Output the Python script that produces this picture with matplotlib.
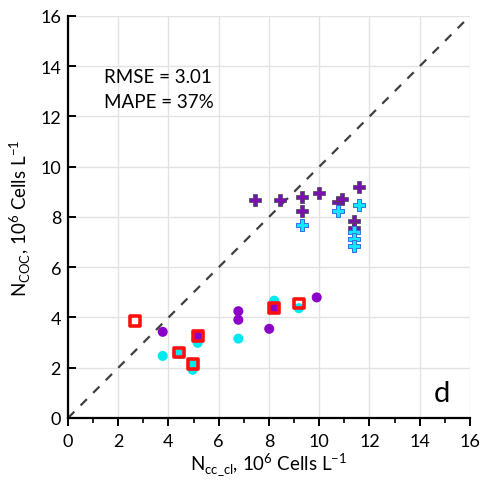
import matplotlib
matplotlib.use("Agg")
import matplotlib.pyplot as plt
from matplotlib.ticker import MultipleLocator

plt.rcParams['font.family'] = ['Lato', 'DejaVu Sans']
plt.rcParams['mathtext.fontset'] = 'custom'
plt.rcParams['mathtext.rm'] = 'Lato'

# Data
purple_plus_x = [7.44, 8.44, 9.31, 9.31, 9.98, 10.73, 10.89, 11.57, 11.38, 11.38]
purple_plus_y = [8.69, 8.69, 8.78, 8.25, 8.95, 8.61, 8.72, 9.18, 7.85, 7.55]
cyan_plus_x = [9.31, 10.73, 11.57, 11.38, 11.38, 11.38]
cyan_plus_y = [7.68, 8.24, 8.48, 7.39, 7.12, 6.86]

cyan_circ_x = [3.77, 4.43, 4.96, 4.96, 5.16, 6.78, 8.21, 9.19]
cyan_circ_y = [2.47, 2.55, 1.92, 2.15, 2.99, 3.16, 4.67, 4.37]
purple_circ_x = [3.77, 6.78, 6.78, 8.01, 9.90, 8.21, 5.16]
purple_circ_y = [3.43, 4.25, 3.91, 3.55, 4.80, 4.38, 3.26]
red_sq_x = [2.67, 4.43, 4.96, 5.16, 8.21, 9.19]
red_sq_y = [3.86, 2.61, 2.15, 3.26, 4.38, 4.56]

ticks = [0, 2, 4, 6, 8, 10, 12, 14, 16]
rmse_text = "RMSE = 3.01"
mape_text = "MAPE = 37%"
panel = "d"

fig = plt.figure(figsize=(4.81, 4.81), dpi=100)
ax = fig.add_axes([0.1414, 0.1289, 0.8356, 0.8358])

ax.set_xlim(0, 16)
ax.set_ylim(0, 16)
ax.set_xticks(ticks)
ax.set_yticks(ticks)
ax.xaxis.set_minor_locator(MultipleLocator(1))
ax.grid(True, which='major', color='#e3e3e3', linewidth=1.0, zorder=0)
ax.set_axisbelow(True)
for s in ['top', 'right']:
    ax.spines[s].set_visible(False)
for s in ['left', 'bottom']:
    ax.spines[s].set_linewidth(1.6)
ax.tick_params(axis='x', which='major', direction='out', length=6, width=1.4, labelsize=13, pad=5)
ax.tick_params(axis='x', which='minor', direction='out', length=3.5, width=1.2)
ax.tick_params(axis='y', which='major', direction='in', length=6, width=1.4, labelsize=13, pad=5)

ax.plot([0, 16], [0, 16], linestyle=(0, (4, 4)), color='#404040', linewidth=1.6, zorder=1)

ax.scatter(cyan_circ_x, cyan_circ_y, s=52, color='#00E8F0', edgecolors='none', zorder=3)
ax.scatter(purple_circ_x, purple_circ_y, s=52, color='#8A00C8', edgecolors='none', zorder=3)
ax.scatter(red_sq_x, red_sq_y, s=50, marker='s', facecolors='none', edgecolors='#FF1010', linewidths=2.6, zorder=4)
ax.scatter(purple_plus_x, purple_plus_y, s=75, marker='P', color='#7A10B0', edgecolors='#404848', linewidths=0.5, zorder=3)
ax.scatter(cyan_plus_x, cyan_plus_y, s=75, marker='P', color='#10E8FF', edgecolors='#3070E0', linewidths=0.7, zorder=4)

ax.text(1.45, 13.6, rmse_text, fontsize=13.5, va='center', ha='left')
ax.text(1.45, 12.6, mape_text, fontsize=13.5, va='center', ha='left')
ax.text(14.9, 1.0, panel, fontsize=21, va='center', ha='center')

ax.set_xlabel(r'N$_{\mathregular{cc\_cl}}$, 10$^{\mathregular{6}}$ Cells L$^{\mathregular{-1}}$', fontsize=13.5, labelpad=1)
ax.set_ylabel(r'N$_{\mathregular{COC}}$, 10$^{\mathregular{6}}$ Cells L$^{\mathregular{-1}}$', fontsize=13.5, labelpad=5)

fig.savefig('out.png', dpi=100)
